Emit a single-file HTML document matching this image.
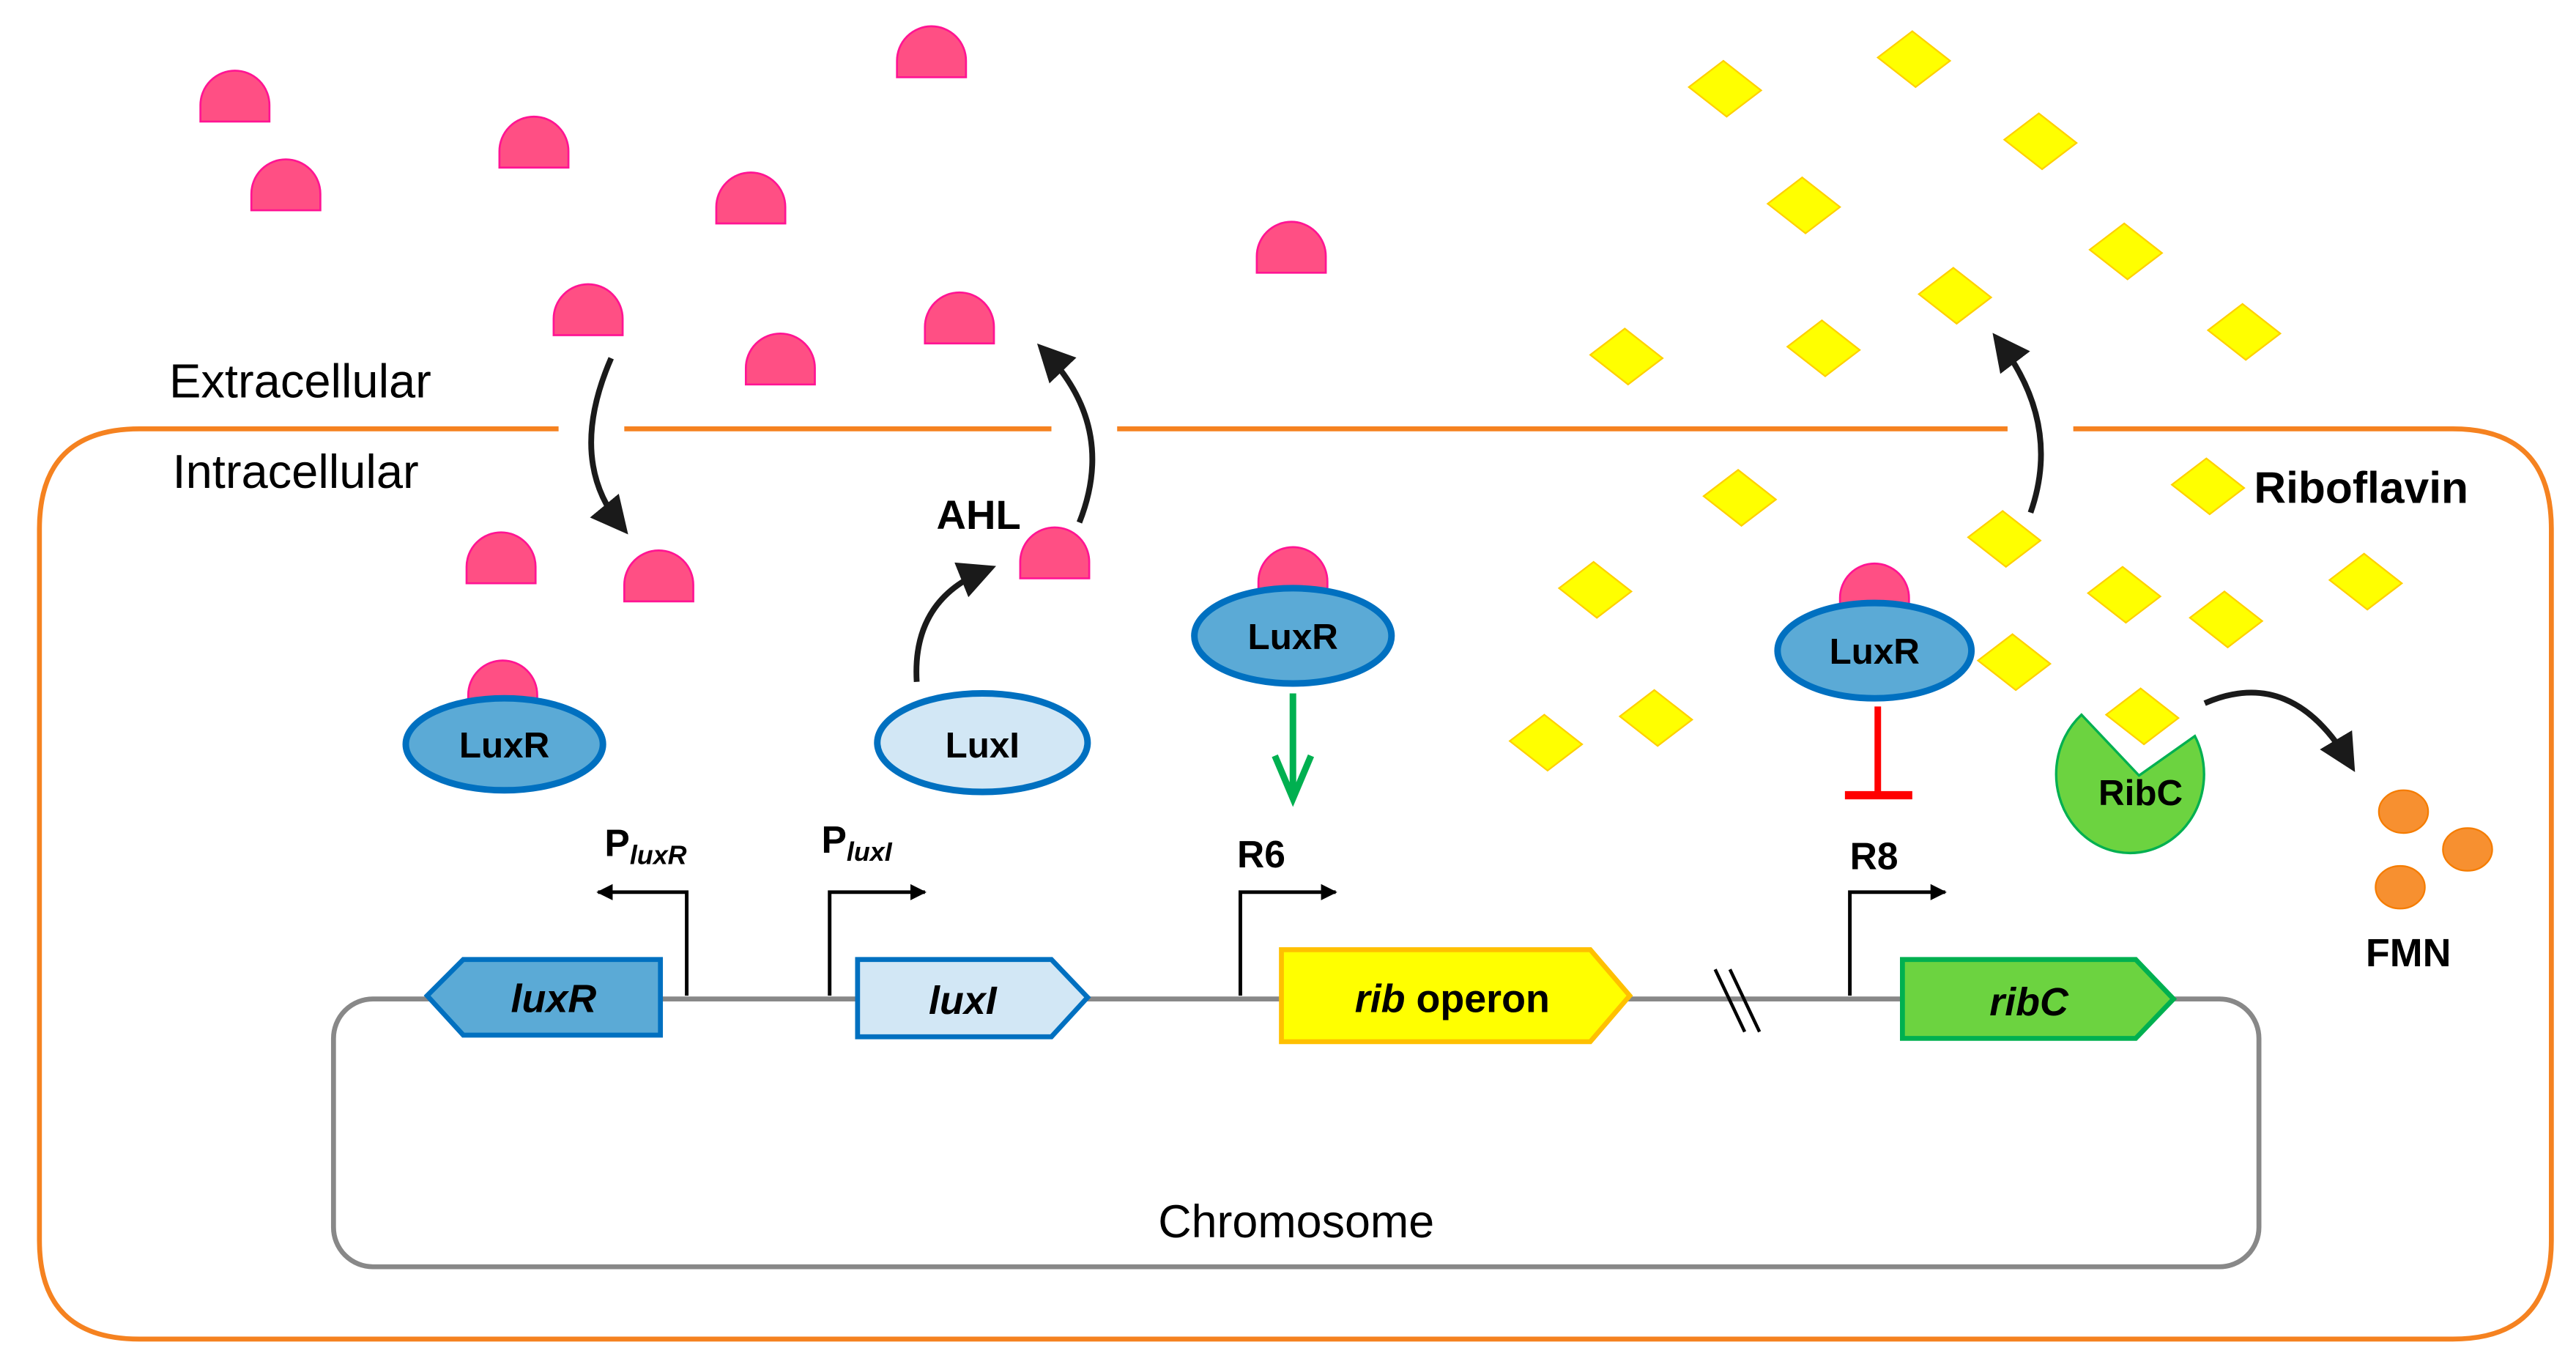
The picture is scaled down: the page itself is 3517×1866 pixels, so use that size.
<!DOCTYPE html>
<html><head><meta charset="utf-8">
<style>
html,body{margin:0;padding:0;background:#fff;}
svg{display:block;}
text{font-family:"Liberation Sans",sans-serif;}
</style></head>
<body>
<svg width="3517" height="1866" viewBox="0 0 1568 832" preserveAspectRatio="none" xmlns="http://www.w3.org/2000/svg">
<defs>
<symbol id="d" overflow="visible"><path d="M-21,0 L-21,-10 A21 21 0 0 1 21,-10 L21,0 Z" fill="#FF4F84" stroke="#FF1493" stroke-width="1.2"/></symbol>
<symbol id="y" overflow="visible"><path d="M-1,-17 L22,1 L1,17 L-22,-1 Z" fill="#FFFF00" stroke="#FFD000" stroke-width="1"/></symbol>
<marker id="ah" viewBox="0 0 10 10" refX="7" refY="5" markerWidth="6.5" markerHeight="6.5" orient="auto"><path d="M0,0 L10,5 L0,10 Z" fill="#1a1a1a"/></marker>
<marker id="sa" viewBox="0 0 10 10" refX="9" refY="5" markerWidth="4.5" markerHeight="4.5" orient="auto"><path d="M0,0 L10,5 L0,10 Z" fill="#000"/></marker>
</defs>

<path d="M340,261 L85,261 Q24,261 24,322 L24,755 Q24,815 85,815 L1493,815 Q1553,815 1553,755 L1553,322 Q1553,261 1493,261 L1262,261" fill="none" stroke="#F58220" stroke-width="3"/>
<line x1="380" y1="261" x2="640" y2="261" stroke="#F58220" stroke-width="3"/>
<line x1="680" y1="261" x2="1222" y2="261" stroke="#F58220" stroke-width="3"/>

<text x="103" y="242" font-size="29">Extracellular</text>
<text x="105" y="297" font-size="29">Intracellular</text>

<rect x="203" y="608" width="1172" height="163" rx="24" fill="none" stroke="#888" stroke-width="3"/>
<text x="789" y="753" font-size="28" text-anchor="middle">Chromosome</text>

<line x1="1044" y1="590" x2="1062" y2="628" stroke="#000" stroke-width="2"/>
<line x1="1053" y1="590" x2="1071" y2="628" stroke="#000" stroke-width="2"/>

<g fill="none" stroke="#000" stroke-width="2.2">
<path d="M418,606 L418,543 L364,543" marker-end="url(#sa)"/>
<path d="M505,606 L505,543 L563,543" marker-end="url(#sa)"/>
<path d="M755,606 L755,543 L813,543" marker-end="url(#sa)"/>
<path d="M1126,606 L1126,543 L1184,543" marker-end="url(#sa)"/>
</g>
<text x="368" y="521" font-size="23" font-weight="bold">P<tspan font-size="16" font-style="italic" dy="5">luxR</tspan></text>
<text x="500" y="519" font-size="23" font-weight="bold">P<tspan font-size="16" font-style="italic" dy="5">luxI</tspan></text>
<text x="753" y="528" font-size="23" font-weight="bold">R6</text>
<text x="1126" y="529" font-size="23" font-weight="bold">R8</text>

<polygon points="260,606 282,584 402,584 402,630 282,630" fill="#5BAAD6" stroke="#0070C0" stroke-width="3"/>
<text x="337" y="616" font-size="24" font-weight="bold" font-style="italic" text-anchor="middle">luxR</text>
<polygon points="522,584 640,584 662,607 640,631 522,631" fill="#D2E7F5" stroke="#0070C0" stroke-width="3"/>
<text x="586" y="617" font-size="24" font-weight="bold" font-style="italic" text-anchor="middle">luxI</text>
<polygon points="780,578 968,578 992,606 968,634 780,634" fill="#FFFF00" stroke="#FFC000" stroke-width="3"/>
<text x="884" y="616" font-size="24" font-weight="bold" text-anchor="middle"><tspan font-style="italic">rib</tspan> operon</text>
<polygon points="1158,584 1300,584 1323,608 1300,632 1158,632" fill="#6CD340" stroke="#00B050" stroke-width="3"/>
<text x="1235" y="618" font-size="24" font-weight="bold" font-style="italic" text-anchor="middle">ribC</text>

<use href="#d" x="143" y="74"/><use href="#d" x="174" y="128"/><use href="#d" x="325" y="102"/>
<use href="#d" x="457" y="136"/><use href="#d" x="567" y="47"/><use href="#d" x="786" y="166"/>
<use href="#d" x="358" y="204"/><use href="#d" x="475" y="234"/><use href="#d" x="584" y="209"/>
<use href="#d" x="305" y="355"/><use href="#d" x="401" y="366"/><use href="#d" x="642" y="352"/>

<use href="#y" x="1050" y="54"/><use href="#y" x="1165" y="36"/><use href="#y" x="1242" y="86"/>
<use href="#y" x="1098" y="125"/><use href="#y" x="1294" y="153"/><use href="#y" x="1190" y="180"/>
<use href="#y" x="1366" y="202"/><use href="#y" x="990" y="217"/><use href="#y" x="1110" y="212"/>
<use href="#y" x="1059" y="303"/><use href="#y" x="1344" y="296"/><use href="#y" x="1220" y="328"/>
<use href="#y" x="971" y="359"/><use href="#y" x="1293" y="362"/><use href="#y" x="1355" y="377"/>
<use href="#y" x="1440" y="354"/><use href="#y" x="1226" y="403"/><use href="#y" x="1008" y="437"/>
<use href="#y" x="941" y="452"/>

<text x="1372" y="306" font-size="27" font-weight="bold">Riboflavin</text>
<text x="570" y="322" font-size="25" font-weight="bold">AHL</text>

<g fill="none" stroke="#1a1a1a" stroke-width="3.5">
<path d="M372,218 Q345,280 378,320" marker-end="url(#ah)"/>
<path d="M558,415 Q555,365 600,347" marker-end="url(#ah)"/>
<path d="M657,318 Q680,260 636,214" marker-end="url(#ah)"/>
<path d="M1236,312 Q1255,258 1217,208" marker-end="url(#ah)"/>
<path d="M1342,428 Q1395,405 1430,464" marker-end="url(#ah)"/>
</g>

<use href="#d" x="306" y="433"/>
<ellipse cx="307" cy="453" rx="60" ry="28" fill="#5BAAD6" stroke="#0070C0" stroke-width="4"/>
<text x="307" y="461" font-size="22" font-weight="bold" text-anchor="middle">LuxR</text>
<ellipse cx="598" cy="452" rx="64" ry="30" fill="#D2E7F5" stroke="#0070C0" stroke-width="4"/>
<text x="598" y="461" font-size="22" font-weight="bold" text-anchor="middle">LuxI</text>
<use href="#d" x="787" y="364"/>
<ellipse cx="787" cy="387" rx="60" ry="29" fill="#5BAAD6" stroke="#0070C0" stroke-width="4"/>
<text x="787" y="395" font-size="22" font-weight="bold" text-anchor="middle">LuxR</text>
<use href="#d" x="1141" y="374"/>
<ellipse cx="1141" cy="396" rx="59" ry="29" fill="#5BAAD6" stroke="#0070C0" stroke-width="4"/>
<text x="1141" y="404" font-size="22" font-weight="bold" text-anchor="middle">LuxR</text>

<path d="M787,422 L787,484 M776,460 L787,486 L798,460" fill="none" stroke="#00B050" stroke-width="4"/>
<line x1="1143" y1="430" x2="1143" y2="483" stroke="#FF0000" stroke-width="4"/>
<line x1="1123" y1="484" x2="1164" y2="484" stroke="#FF0000" stroke-width="5"/>

<path d="M1267,435 L1302,472 L1336,448 A45 48 0 1 1 1267,435 Z" fill="#6CD340" stroke="#00B050" stroke-width="1.5"/>
<use href="#y" x="1304" y="436"/>
<text x="1303" y="490" font-size="22" font-weight="bold" text-anchor="middle">RibC</text>

<g fill="#F79030" stroke="#F57C00" stroke-width="1">
<ellipse cx="1463" cy="494" rx="15" ry="13"/>
<ellipse cx="1502" cy="517" rx="15" ry="13"/>
<ellipse cx="1461" cy="540" rx="15" ry="13"/>
</g>
<text x="1466" y="588" font-size="24" font-weight="bold" text-anchor="middle">FMN</text>
</svg>
</body></html>
